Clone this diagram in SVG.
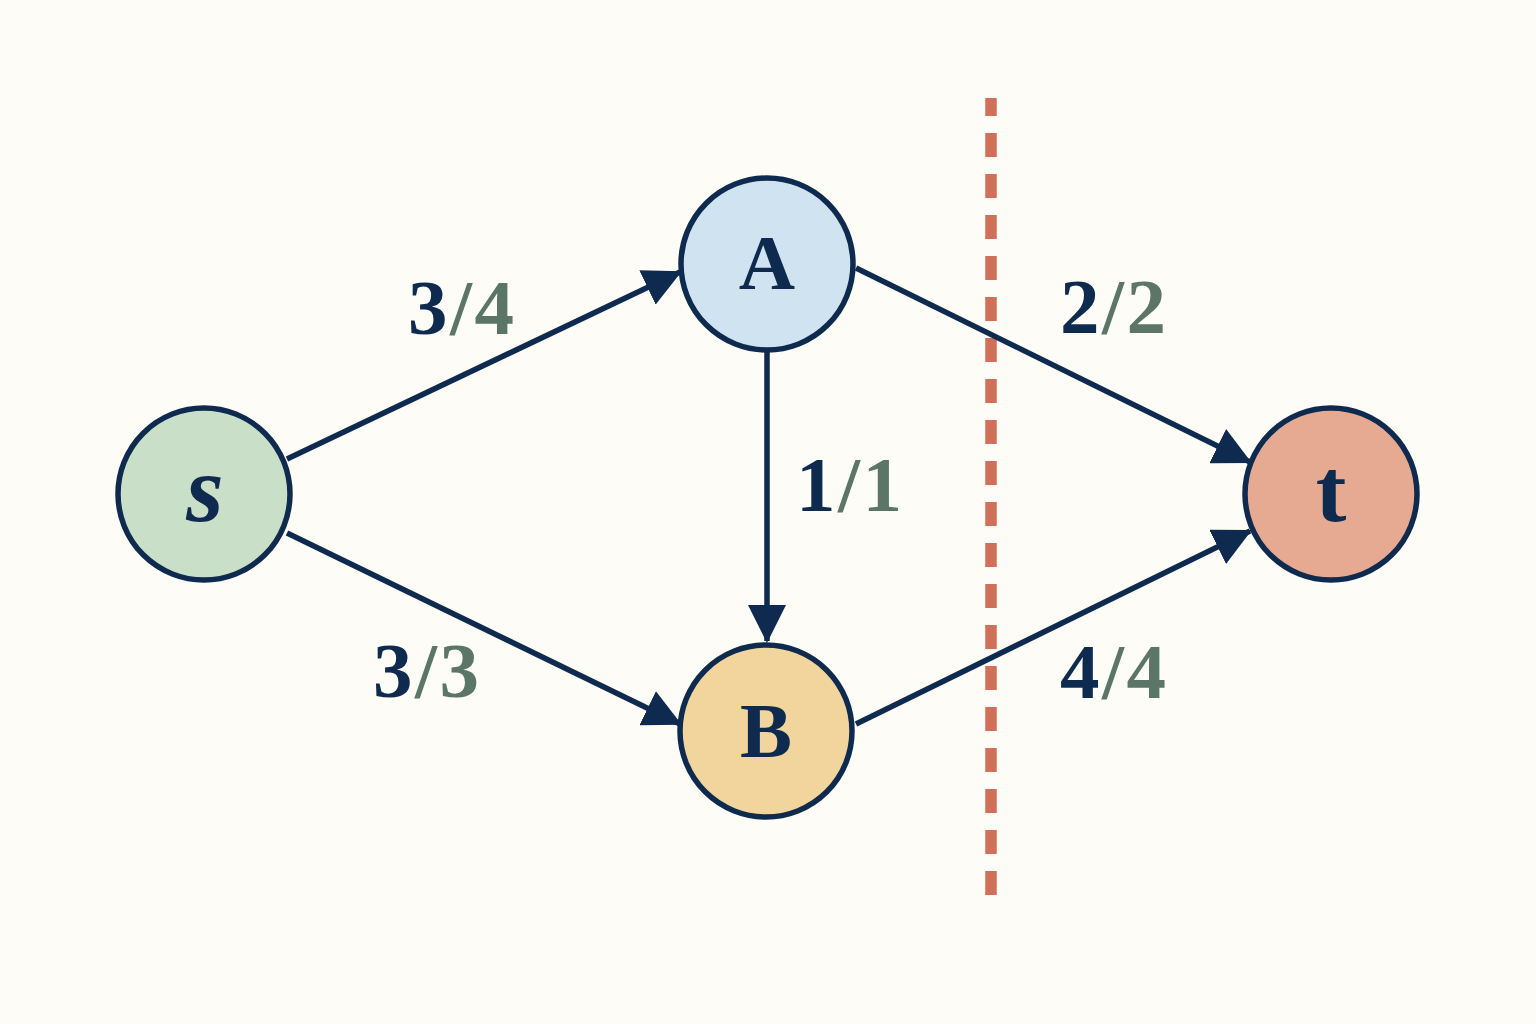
<svg xmlns="http://www.w3.org/2000/svg" width="1536" height="1024" viewBox="0 0 1536 1024">
<defs>
<style>
.node{stroke:#0f2a4f;stroke-width:5.5}
.edge{stroke:#0f2a4f;stroke-width:5.5;fill:none;marker-end:url(#arr)}
.nl{font-family:"Liberation Serif","DejaVu Serif",serif;font-weight:bold;fill:#0f2a4f;text-anchor:middle}
.lbl{font-family:"Liberation Serif","DejaVu Serif",serif;font-weight:bold;font-size:79px;fill:#0f2a4f;letter-spacing:2.5px}
.cap{fill:#5c7569}
.cut{stroke:#d0705a;stroke-width:11.5;stroke-dasharray:24 17;stroke-dashoffset:6;fill:none}
</style>
<marker id="arr" markerUnits="userSpaceOnUse" markerWidth="38" markerHeight="38" viewBox="0 0 38 38" refX="36" refY="19" orient="auto">
<path d="M0,0 L38,19 L0,38 Z" fill="#0f2a4f"/>
</marker>
</defs>
<rect width="1536" height="1024" fill="#fdfcf6"/>
<line class="cut" x1="991" y1="98" x2="991" y2="896"/>
<g id="connectors">
<line class="edge" x1="287" y1="459" x2="680" y2="272"/>
<line class="edge" x1="287" y1="533" x2="680" y2="724"/>
<line class="edge" x1="767" y1="352" x2="767" y2="641"/>
<line class="edge" x1="856" y1="268" x2="1250" y2="462"/>
<line class="edge" x1="856" y1="724" x2="1250" y2="531"/>
</g>
<g id="labels">
<text class="lbl" x="408" y="334">3<tspan class="cap">/4</tspan></text>
<text class="lbl" x="373" y="697">3<tspan class="cap">/3</tspan></text>
<text class="lbl" x="796" y="511">1<tspan class="cap">/1</tspan></text>
<text class="lbl" x="1060" y="333">2<tspan class="cap">/2</tspan></text>
<text class="lbl" x="1060" y="698">4<tspan class="cap">/4</tspan></text>
</g>
<g id="node-s">
<circle class="node" cx="204" cy="494" r="86" fill="#c9dfc8"/>
<text class="nl" x="205" y="521" font-size="96" font-style="italic">s</text>
</g>
<g id="node-A">
<circle class="node" cx="767" cy="264" r="86" fill="#cfe3f0"/>
<text class="nl" x="767" y="289" font-size="78">A</text>
</g>
<g id="node-B">
<circle class="node" cx="766" cy="731" r="86" fill="#f1d59c"/>
<text class="nl" x="766" y="757" font-size="78">B</text>
</g>
<g id="node-t">
<circle class="node" cx="1331" cy="494" r="86" fill="#e6aa93"/>
<text class="nl" x="1331" y="521" font-size="92">t</text>
</g>
</svg>
